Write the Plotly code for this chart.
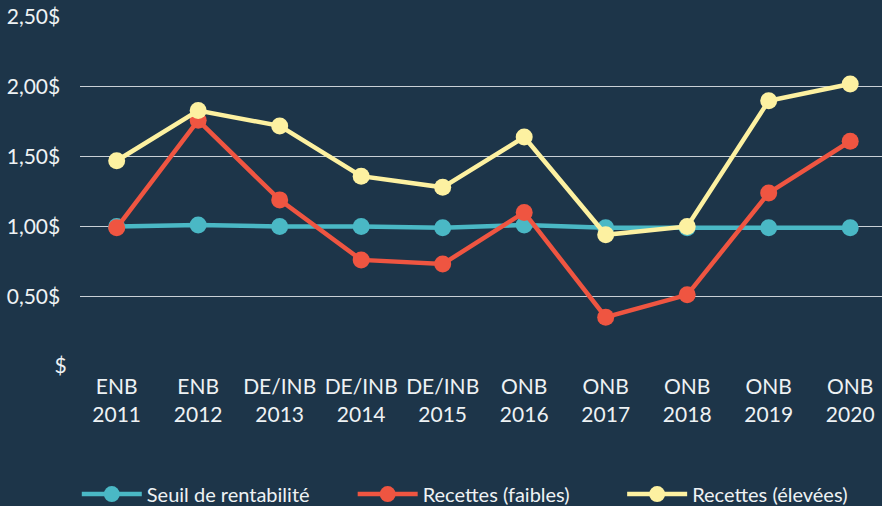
import plotly.graph_objects as go

categories = ["ENB<br>2011", "ENB<br>2012", "DE/INB<br>2013", "DE/INB<br>2014", "DE/INB<br>2015",
              "ONB<br>2016", "ONB<br>2017", "ONB<br>2018", "ONB<br>2019", "ONB<br>2020"]
seuil = [1.00, 1.01, 1.00, 1.00, 0.99, 1.01, 0.99, 0.99, 0.99, 0.99]
faibles = [0.99, 1.76, 1.19, 0.76, 0.73, 1.10, 0.35, 0.51, 1.24, 1.61]
elevees = [1.47, 1.83, 1.72, 1.36, 1.28, 1.64, 0.94, 1.00, 1.90, 2.02]
ytick_vals = [0, 0.5, 1.0, 1.5, 2.0, 2.5]
ytick_text = ["$", "0,50$\u2005\u200a", "1,00$\u2005\u200a", "1,50$\u2005\u200a",
              "2,00$\u2005\u200a", "2,50$\u2005\u200a"]

BG = "#1d3549"
TXT = "#eef2f4"
FONT = "Lato, 'Open Sans', sans-serif"

fig = go.Figure()
series = [
    ("Seuil de rentabilité", seuil, "#4ab8c5", "legend"),
    ("Recettes (faibles)", faibles, "#ef5541", "legend2"),
    ("Recettes (élevées)", elevees, "#fdf1a1", "legend3"),
]
for name, vals, col, lg in series:
    fig.add_trace(go.Scatter(
        x=list(range(len(categories))), y=vals, name=name,
        mode="lines+markers",
        line=dict(color=col, width=4.5),
        marker=dict(color=col, size=17),
        cliponaxis=False, legend=lg,
    ))

leg_common = dict(orientation="h", xanchor="left", y=-0.367, yanchor="middle",
                  font=dict(size=20, color=TXT), itemwidth=60,
                  bgcolor="rgba(0,0,0,0)")
fig.update_layout(
    width=882, height=506,
    paper_bgcolor=BG, plot_bgcolor=BG,
    margin=dict(l=80, r=0, t=17, b=140, autoexpand=False),
    font=dict(family=FONT, color=TXT, size=21),
    showlegend=True,
    legend=dict(x=-0.004, **leg_common),
    legend2=dict(x=0.340, **leg_common),
    legend3=dict(x=0.676, **leg_common),
    xaxis=dict(
        tickmode="array", tickvals=list(range(len(categories))), ticktext=categories,
        range=[-0.45, 9.39], showgrid=False, zeroline=False, showline=False,
        ticks="outside", ticklen=2, tickcolor=BG,
        tickfont=dict(size=21, color=TXT),
    ),
    yaxis=dict(
        tickmode="array", tickvals=ytick_vals, ticktext=ytick_text,
        range=[0, 2.5], showgrid=True, gridcolor="#c9d0d6", gridwidth=1,
        zeroline=False, showline=False,
        ticks="outside", ticklen=8, tickcolor=BG,
        tickfont=dict(size=21, color=TXT),
    ),
)

fig.write_html("out.html", config={"displayModeBar": False},
               post_script="document.body.style.margin='0';document.body.style.background='#1d3549';")
